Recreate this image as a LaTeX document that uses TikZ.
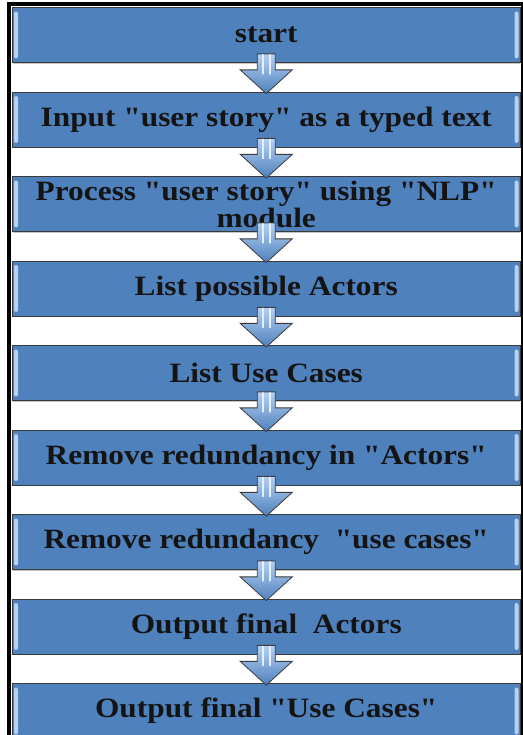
\documentclass[tikz,border=0pt]{standalone}
\usepackage{fontspec}
\setmainfont{Liberation Serif}[FakeStretch=1.12, Ligatures=TeXOff]
\usepackage{tikz}
\usetikzlibrary{positioning, fit, backgrounds, calc, shadows}
\definecolor{azulPaso}{HTML}{4F81BD}
\definecolor{azulClaro}{HTML}{B4D0F3}
\definecolor{azulBrillo}{HTML}{E4F0FF}
\definecolor{bordePaso}{HTML}{3A3A3A}
% flecha de bloque entre dos pasos
\newcommand{\flecha}[2]{%
    \draw[flechaBloque] ($(#1.south)+(-9pt,9pt)$) -- ($(#1.south)+(-9pt,-7pt)$)
        -- ($(#1.south)+(-26pt,-7pt)$) -- ($(#2.north)+(0,-2pt)$)
        -- ($(#1.south)+(26pt,-7pt)$) -- ($(#1.south)+(9pt,-7pt)$)
        -- ($(#1.south)+(9pt,9pt)$) -- cycle;
    \draw[brillo] ($(#1.south)+(-3.5pt,8pt)$) -- ($(#1.south)+(-3.5pt,-11pt)$);
    \draw[brillo] ($(#1.south)+(3.5pt,8pt)$) -- ($(#1.south)+(3.5pt,-11pt)$);
}

\begin{document}
\begin{tikzpicture}[
        paso/.style={draw=bordePaso, fill=azulPaso, line width=0.8pt,
            minimum width=507.5pt, minimum height=55pt, inner sep=0pt, align=center,
            font=\bfseries\fontsize{28}{27}\selectfont, text=black!92,
            drop shadow={shadow xshift=0pt, shadow yshift=-1.2pt, opacity=0.45},
            path picture={
                \fill[azulClaro, rounded corners=2pt]
                    ([xshift=1.5pt,yshift=-4pt]path picture bounding box.north west) rectangle
                    ([xshift=5.5pt,yshift=4pt]path picture bounding box.south west);
                \fill[azulClaro, rounded corners=2pt]
                    ([xshift=-5.5pt,yshift=-4pt]path picture bounding box.north east) rectangle
                    ([xshift=-1.5pt,yshift=4pt]path picture bounding box.south east);
            }},
        flechaBloque/.style={draw=bordePaso, line width=0.8pt, line join=miter,
            top color=azulClaro, bottom color=azulPaso},
        brillo/.style={draw=azulBrillo, line width=1.6pt, line cap=round},
        marco/.style={draw=black, line width=4pt, inner sep=3pt}
    ]
        \useasboundingbox (0,0) rectangle (522pt,735pt);

        \node[paso] (s1) at (266.25pt,700pt) {start};
        \node[paso, below=28.7pt of s1] (s2) {Input "user story" as a typed text};
        \node[paso, below=28.7pt of s2] (s3) {Process "user story" using "NLP"\\module};
        \node[paso, below=28.7pt of s3] (s4) {List possible Actors};
        \node[paso, below=28.7pt of s4] (s5) {List Use Cases};
        \node[paso, below=28.7pt of s5] (s6) {Remove redundancy in "Actors"};
        \node[paso, below=28.7pt of s6] (s7) {Remove redundancy~ "use cases"};
        \node[paso, below=28.7pt of s7] (s8) {Output final~ Actors};
        \node[paso, below=28.7pt of s8] (s9) {Output final "Use Cases"};

        \flecha{s1}{s2}
        \flecha{s2}{s3}
        \flecha{s3}{s4}
        \flecha{s4}{s5}
        \flecha{s5}{s6}
        \flecha{s6}{s7}
        \flecha{s7}{s8}
        \flecha{s8}{s9}

        \begin{scope}[on background layer]
            \fill[white] (0,0) rectangle (522pt,735pt);
            \node[marco, fit=(s1)(s9)] (caja) {};
        \end{scope}
    \end{tikzpicture}
\end{document}
